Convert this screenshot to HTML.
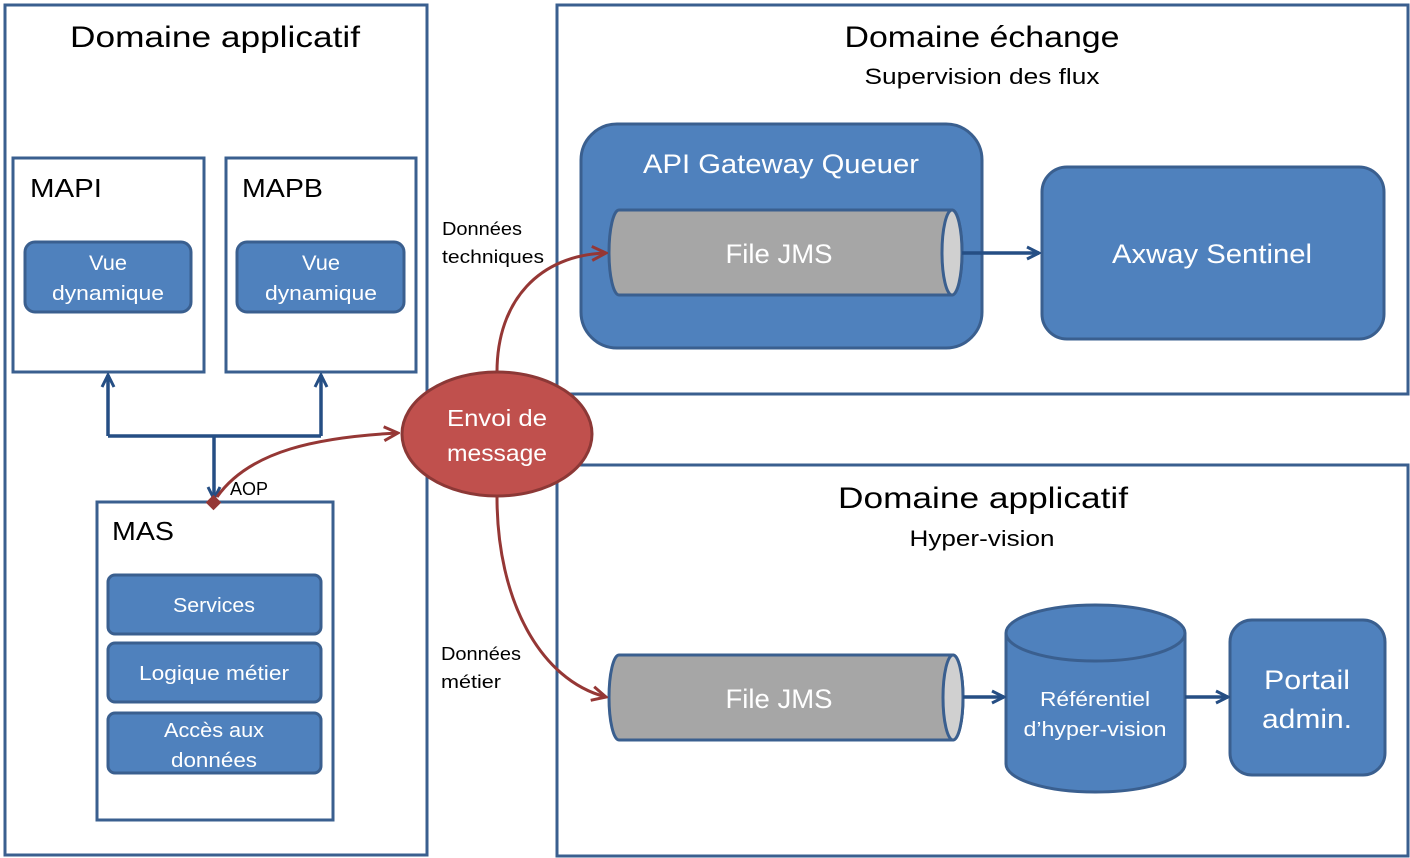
<!DOCTYPE html>
<html><head><meta charset="utf-8"><style>
html,body{margin:0;padding:0;background:#fff;}
svg{display:block;font-family:"Liberation Sans",sans-serif;}
</style></head><body>
<svg width="1410" height="858" viewBox="0 0 1410 858" xmlns="http://www.w3.org/2000/svg">
<defs>
<marker id="ab" viewBox="0 0 16 16" refX="14" refY="8" markerWidth="16" markerHeight="16" markerUnits="userSpaceOnUse" orient="auto"><path d="M2,2 L14,8 L2,14" fill="none" stroke="#254e84" stroke-width="3"/></marker>
<marker id="ar" viewBox="0 0 18 18" refX="16" refY="9" markerWidth="18" markerHeight="18" markerUnits="userSpaceOnUse" orient="auto"><path d="M2,2 L16,9 L2,16" fill="none" stroke="#953735" stroke-width="3"/></marker>
</defs>
<g fill="none" stroke="#3a5f8f" stroke-width="3">
<rect x="5" y="5" width="422" height="850"/>
<rect x="557" y="5" width="851" height="389"/>
<rect x="557" y="465" width="851" height="391"/>
<rect x="13" y="158" width="191" height="214"/>
<rect x="226" y="158" width="190" height="214"/>
<rect x="97" y="502" width="236" height="318"/>
</g>
<g fill="#4f81bd" stroke="#3a5f8f" stroke-width="3">
<rect x="25" y="242" width="166" height="70" rx="10"/>
<rect x="237" y="242" width="167" height="70" rx="10"/>
<rect x="108" y="575" width="213" height="59" rx="7"/>
<rect x="108" y="643" width="213" height="59" rx="7"/>
<rect x="108" y="713" width="213" height="60" rx="7"/>
<rect x="581" y="124" width="401" height="224" rx="36"/>
<rect x="1042" y="167" width="342" height="172" rx="25"/>
<rect x="1230" y="620" width="155" height="155" rx="22"/>
<path d="M1006,633 L1006,764 A89.5,28 0 0 0 1185,764 L1185,633"/>
<ellipse cx="1095.5" cy="633" rx="89.5" ry="28"/>
</g>
<g stroke="#3a5f8f" stroke-width="3">
<path d="M619,210 L952,210 A10,42.5 0 0 1 952,295 L619,295 A10,42.5 0 0 1 619,210 Z" fill="#a6a6a6"/>
<ellipse cx="952" cy="252.5" rx="10" ry="42.5" fill="#d0d0d0"/>
<path d="M619,655 L953,655 A10,42.5 0 0 1 953,740 L619,740 A10,42.5 0 0 1 619,655 Z" fill="#a6a6a6"/>
<ellipse cx="953" cy="697.5" rx="10" ry="42.5" fill="#d0d0d0"/>
</g>
<g fill="none" stroke="#254e84" stroke-width="3.5">
<path d="M108,436 L108,375" marker-end="url(#ab)"/>
<path d="M321,436 L321,375" marker-end="url(#ab)"/>
<path d="M108,436 L321,436"/>
<path d="M214,436 L214,499" marker-end="url(#ab)"/>
<path d="M962,253 L1039,253" marker-end="url(#ab)"/>
<path d="M963,697 L1004,697" marker-end="url(#ab)"/>
<path d="M1185,697 L1228,697" marker-end="url(#ab)"/>
</g>
<g fill="none" stroke="#953735" stroke-width="3">
<path d="M497,372 C497,300 540,255 606,253" marker-end="url(#ar)"/>
<path d="M497,497 C497,600 540,680 606,697" marker-end="url(#ar)"/>
<path d="M217,497 C250,450 320,437 398,433" marker-end="url(#ar)"/>
</g>
<rect x="208" y="497" width="11" height="11" fill="#953735" transform="rotate(45 213.5 502.5)"/>
<ellipse cx="497" cy="434" rx="95" ry="62" fill="#c0504d" stroke="#8c3836" stroke-width="3"/>
<g fill="#000" text-anchor="middle">
<text x="215" y="47" font-size="30" textLength="290" lengthAdjust="spacingAndGlyphs">Domaine applicatif</text>
<text x="982" y="47" font-size="30" textLength="275" lengthAdjust="spacingAndGlyphs">Domaine échange</text>
<text x="982" y="84" font-size="22" textLength="235" lengthAdjust="spacingAndGlyphs">Supervision  des flux</text>
<text x="983" y="508" font-size="30" textLength="290" lengthAdjust="spacingAndGlyphs">Domaine applicatif</text>
<text x="982" y="546" font-size="22" textLength="145" lengthAdjust="spacingAndGlyphs">Hyper-vision</text>
</g>
<g fill="#000" font-size="26">
<text x="30" y="197" textLength="72" lengthAdjust="spacingAndGlyphs">MAPI</text>
<text x="242" y="197" textLength="81" lengthAdjust="spacingAndGlyphs">MAPB</text>
<text x="112" y="540" textLength="62" lengthAdjust="spacingAndGlyphs">MAS</text>
</g>
<g fill="#000" font-size="18">
<text x="230" y="495">AOP</text>
<text x="442" y="235" textLength="80" lengthAdjust="spacingAndGlyphs">Données</text>
<text x="442" y="263" textLength="102" lengthAdjust="spacingAndGlyphs">techniques</text>
<text x="441" y="660" textLength="80" lengthAdjust="spacingAndGlyphs">Données</text>
<text x="441" y="688" textLength="60" lengthAdjust="spacingAndGlyphs">métier</text>
</g>
<g fill="#fff" text-anchor="middle">
<text x="108" y="270" font-size="21" textLength="38" lengthAdjust="spacingAndGlyphs">Vue</text>
<text x="108" y="300" font-size="20" textLength="112" lengthAdjust="spacingAndGlyphs">dynamique</text>
<text x="321" y="270" font-size="21" textLength="38" lengthAdjust="spacingAndGlyphs">Vue</text>
<text x="321" y="300" font-size="20" textLength="112" lengthAdjust="spacingAndGlyphs">dynamique</text>
<text x="214" y="612" font-size="20" textLength="82" lengthAdjust="spacingAndGlyphs">Services</text>
<text x="214" y="680" font-size="20" textLength="150" lengthAdjust="spacingAndGlyphs">Logique métier</text>
<text x="214" y="737" font-size="20" textLength="100" lengthAdjust="spacingAndGlyphs">Accès aux</text>
<text x="214" y="767" font-size="20" textLength="86" lengthAdjust="spacingAndGlyphs">données</text>
<text x="497" y="426" font-size="23" textLength="100" lengthAdjust="spacingAndGlyphs">Envoi de</text>
<text x="497" y="461" font-size="23" textLength="100" lengthAdjust="spacingAndGlyphs">message</text>
<text x="781" y="173" font-size="27" textLength="276" lengthAdjust="spacingAndGlyphs">API Gateway Queuer</text>
<text x="779" y="263" font-size="27" textLength="107" lengthAdjust="spacingAndGlyphs">File JMS</text>
<text x="779" y="708" font-size="27" textLength="107" lengthAdjust="spacingAndGlyphs">File JMS</text>
<text x="1212" y="263" font-size="27" textLength="200" lengthAdjust="spacingAndGlyphs">Axway Sentinel</text>
<text x="1095" y="706" font-size="20" textLength="110" lengthAdjust="spacingAndGlyphs">Référentiel</text>
<text x="1095" y="736" font-size="20" textLength="143" lengthAdjust="spacingAndGlyphs">d’hyper-vision</text>
<text x="1307" y="689" font-size="27" textLength="86" lengthAdjust="spacingAndGlyphs">Portail</text>
<text x="1307" y="728" font-size="27" textLength="90" lengthAdjust="spacingAndGlyphs">admin.</text>
</g>
</svg>
</body></html>
